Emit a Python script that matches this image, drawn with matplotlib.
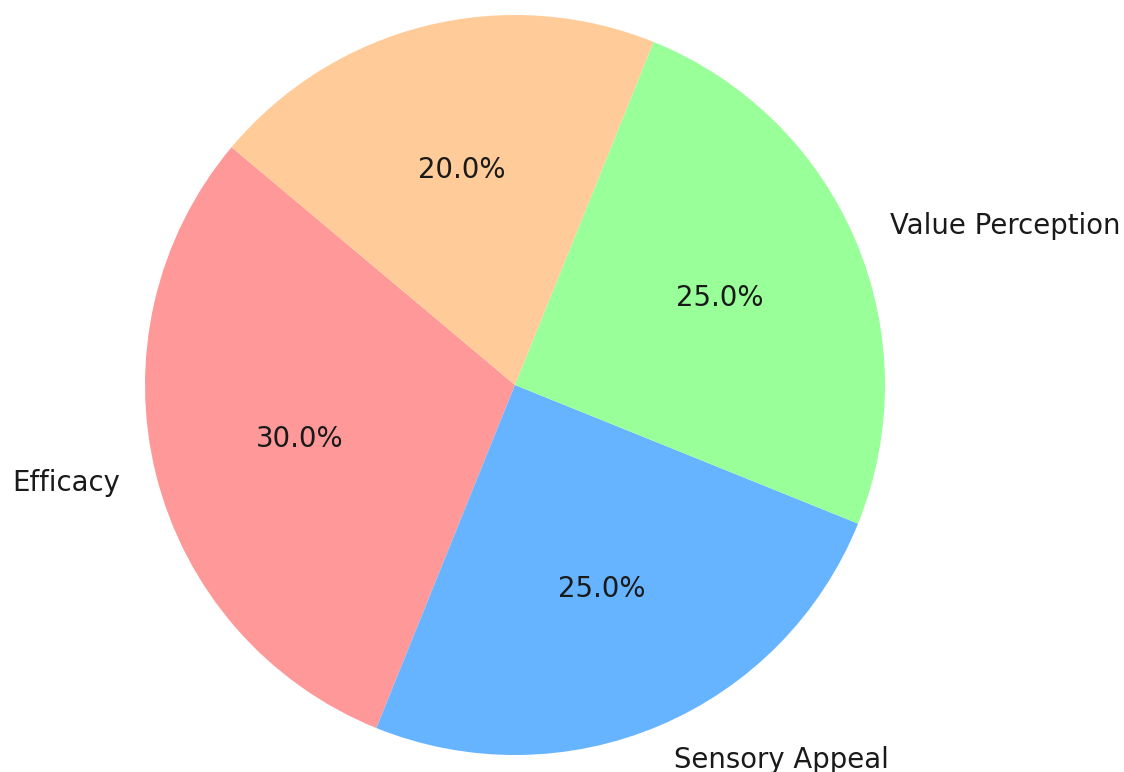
import matplotlib
matplotlib.use("Agg")
import matplotlib.pyplot as plt

labels = ["Efficacy", "Sensory Appeal", "Value Perception", "Brand Trust and Scent Profile Match"]
sizes = [30, 25, 25, 20]
colors = ["#ff9999", "#66b3ff", "#99ff99", "#ffcc99"]

W, H = 1124, 772
fig = plt.figure(figsize=(W / 100, H / 100), dpi=100)
ax = fig.add_axes([0, 0, 1, 1])
ax.pie(sizes, labels=labels, colors=colors, autopct="%1.1f%%", startangle=140,
       textprops={"fontsize": 19.8, "color": "#1a1a1a"})
cx, cy, r = 515, 772 - 385, 370
ax.set_aspect("auto")
ax.set_xlim(-cx / r, (W - cx) / r)
ax.set_ylim(-cy / r, (H - cy) / r)
ax.axis("off")
fig.savefig("out.png", dpi=100)
